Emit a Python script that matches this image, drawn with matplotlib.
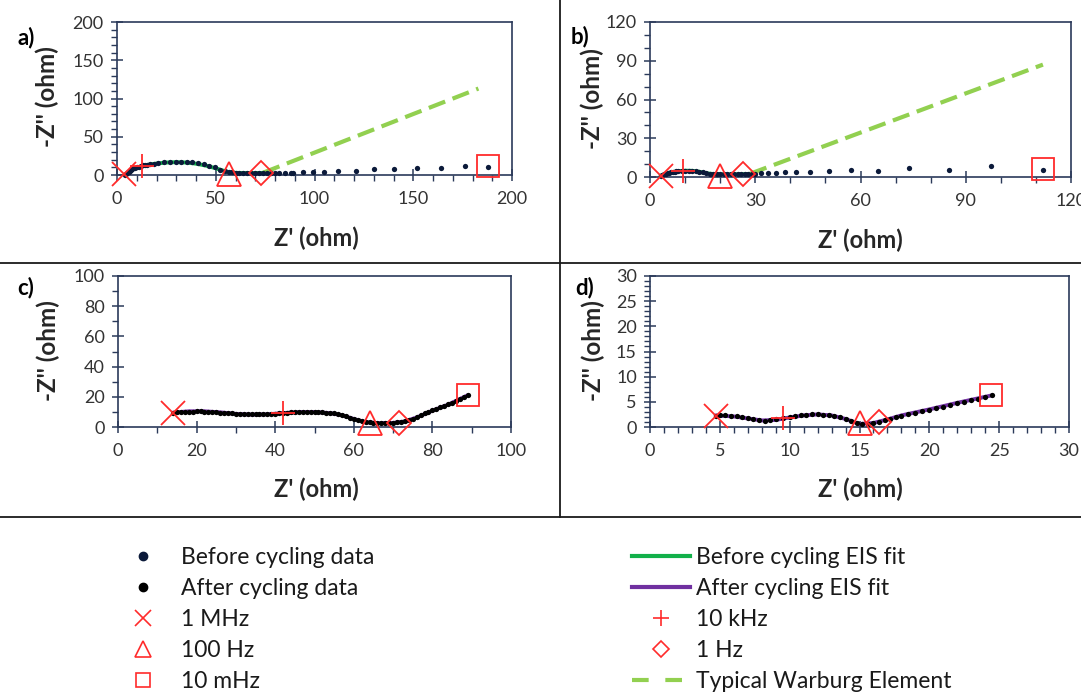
import matplotlib
matplotlib.use("Agg")
import matplotlib.pyplot as plt
from matplotlib.lines import Line2D
from matplotlib.ticker import MultipleLocator

W, H = 1081, 693
plt.rcParams['font.family'] = ['Lato', 'DejaVu Sans']

# ---------------- panel a (before cycling) ----------------
before_a_x = [4, 4.5, 5, 5.5, 6, 6.5, 7, 7.5, 8, 9, 10, 11, 12, 13, 14, 15, 16.5,
              18.5, 21, 24, 27, 30, 32.5, 35.5, 38, 41, 44, 46.5, 49.5, 52, 54.5,
              56.5, 58, 60, 62, 64, 66, 68, 70, 72, 74, 76, 78, 80, 82, 85, 88,
              89, 94, 99, 105, 112, 121, 130, 140, 152, 164, 176, 188]
before_a_y = [0.5, 1.5, 2.5, 3.5, 4.5, 5.5, 6.5, 7.5, 8.5, 9.5, 10.5, 11, 12, 12.5,
              13, 13.5, 14, 14.5, 15.5, 16.5, 17.5, 17.5, 17.5, 17.5, 16.7, 15.4,
              14, 12.3, 10, 7, 4.8, 3.8, 3.3, 3, 3, 3, 3, 3, 3, 3, 3, 3, 3, 3, 3,
              3, 3, 2.5, 4.2, 4.2, 4.2, 5.8, 5.8, 7.9, 7.9, 9.6, 9.6, 12, 11]
fit_a_x = [4, 6, 8, 10, 13, 16, 20, 25, 30, 35, 40, 45, 50, 54, 57, 60, 65, 70, 75]
fit_a_y = [0.5, 4, 7, 9.5, 12, 13.5, 15, 16.3, 16.8, 16.3, 14.8, 12.3, 8.8, 5.5,
           3.5, 2.8, 2.6, 2.6, 2.8]
warburg_a_x = [74, 183]
warburg_a_y = [3, 113]
freq_a_x = [3.7, 12.5, 56.6, 72.9, 188]
freq_a_y = [1.3, 12.3, 1.3, 2.2, 11.5]

# ---------------- panel b (before cycling) ----------------
before_b_x = [3, 3.5, 4, 4.5, 5, 5.5, 6, 6.5, 7, 7.5, 8, 9, 10, 11, 12, 13, 14, 15,
              16, 17, 18, 19, 20, 21, 22, 23, 24, 25, 26, 27, 28, 29, 30, 31.5,
              33.5, 35.8, 38.4, 41.6, 45.6, 51, 57.2, 64.9, 73.9, 85.1, 97.3, 112]
before_b_y = [1, 1.5, 2, 2.5, 3, 3.3, 3.6, 3.9, 4.2, 4.4, 4.6, 4.8, 5, 5, 4.9, 4.6,
              4.2, 3.6, 3, 2.6, 2.4, 2.3, 2.2, 2.2, 2.2, 2.2, 2.2, 2.2, 2.3, 2.3,
              2.4, 2.5, 2.6, 3, 3, 3, 3.8, 3.9, 3.8, 4.8, 5.7, 4.8, 6.8, 5.8, 8.6,
              5.8]
fit_b_x = [3, 4, 5, 6, 8, 10, 12, 14, 16, 18, 20, 24, 28, 30]
fit_b_y = [1, 2, 3, 3.6, 4.5, 4.9, 4.8, 4.1, 2.9, 2.3, 2.1, 2.1, 2.3, 2.5]
warburg_b_x = [28.5, 112]
warburg_b_y = [2.5, 87]
freq_b_x = [3, 9.5, 20, 26.5, 112]
freq_b_y = [1, 5, 1, 2.4, 6]

# ---------------- panel c (after cycling) ----------------
after_c_x = [14, 15, 16, 17, 18, 19, 20, 21, 22, 23, 24, 25, 26, 27, 28, 29, 30,
             31, 32, 33, 34, 35, 36, 37, 38, 39, 40, 41, 42, 43, 44, 45, 46, 47,
             48, 49, 50, 51, 52, 53, 54, 55, 56, 57, 58, 59, 60, 61, 62, 63, 64,
             65, 66, 67, 68, 69, 70, 71, 72, 73, 74, 75, 76, 77, 78, 79, 80, 81,
             82, 83, 84, 85, 86, 87, 88, 89]
after_c_y = [9.0, 9.8, 10.0, 10.1, 10.2, 10.2, 10.3, 10.3, 10.2, 10.1, 10.0, 9.8,
             9.6, 9.4, 9.2, 9.0, 8.8, 8.6, 8.5, 8.4, 8.4, 8.4, 8.4, 8.5, 8.6, 8.7,
             8.9, 9.1, 9.3, 9.5, 9.7, 9.8, 9.9, 10.0, 10.0, 10.0, 9.9, 9.8, 9.7,
             9.5, 9.3, 9.0, 8.4, 7.7, 7.0, 6.2, 5.5, 4.6, 3.8, 3.3, 3.0, 2.9, 2.8,
             2.8, 2.8, 2.8, 2.8, 3.0, 3.3, 3.8, 4.5, 5.4, 6.5, 7.7, 9.0, 10.0,
             11.0, 12.0, 13.0, 14.0, 15.0, 16.1, 17.3, 18.5, 19.8, 21.3]
fit_c_x = [14, 18, 22, 26, 30, 34, 38, 42, 46, 50, 54, 57, 60, 63, 66, 70, 73, 76,
           80, 84, 89]
fit_c_y = [9.5, 10.4, 10.4, 9.7, 8.7, 8.2, 8.4, 9.2, 9.9, 9.9, 9.2, 7.8, 5.3, 3.2,
           2.6, 2.7, 3.7, 6.3, 10.8, 14.8, 21.0]
freq_c_x = [14, 42, 64, 71.5, 89]
freq_c_y = [9, 9.3, 2.5, 2.7, 21.5]

# ---------------- panel d (after cycling) ----------------
after_d_x = [4.7, 5.0, 5.4, 5.8, 6.2, 6.6, 7.0, 7.4, 7.8, 8.2, 8.6, 9.0, 9.5, 10.0,
             10.4, 10.8, 11.2, 11.6, 12.0, 12.4, 12.8, 13.2, 13.6, 14.0, 14.4,
             14.8, 15.2, 15.6, 16.0, 16.4, 16.8, 17.2, 17.6, 18.0, 18.5, 19.0,
             19.5, 20.0, 20.5, 21.0, 21.5, 22.0, 22.5, 23.0, 23.5, 24.0, 24.5]
after_d_y = [2.2, 2.4, 2.3, 2.2, 2.1, 1.9, 1.7, 1.5, 1.3, 1.2, 1.3, 1.5, 1.8, 2.0,
             2.2, 2.3, 2.4, 2.5, 2.5, 2.4, 2.3, 2.2, 2.0, 1.6, 1.1, 0.7, 0.5, 0.6,
             0.8, 1.0, 1.3, 1.6, 1.9, 2.2, 2.5, 2.8, 3.1, 3.4, 3.7, 4.0, 4.3, 4.7,
             5.0, 5.3, 5.6, 5.9, 6.4]
fit_d_x = [4.7, 6, 7, 8, 9, 10, 11, 12, 13, 14, 15, 16, 17, 18, 20, 22, 24.5]
fit_d_y = [2.3, 2.1, 1.7, 1.3, 1.4, 1.9, 2.3, 2.5, 2.3, 1.6, 0.6, 0.8, 1.5, 2.3,
           3.5, 4.8, 6.3]
freq_d_x = [4.7, 9.5, 15, 16.4, 24.4]
freq_d_y = [2.1, 1.8, 0.8, 1.0, 6.4]

# axis settings per panel: limit, major step, minor step
limits = {'a': 200, 'b': 120, 'c': 100, 'd': 30}
major_steps = {'a': 50, 'b': 30, 'c': 20, 'd': 5}
minor_steps = {'a': 10, 'b': 10, 'c': 10, 'd': 1}

freq_labels = ['1 MHz', '10 kHz', '100 Hz', '1 Hz', '10 mHz']
freq_markers = ['x', '+', '^', 'D', 's']
freq_sizes = [17, 17, 17, 12, 16]

NAVY = '#2B3A5A'
DOT_BEFORE = '#0B1A3A'
DOT_AFTER = '#000000'
RED = '#FF2B2B'
GREEN_FIT = '#12B04A'
PURPLE_FIT = '#7030A0'
WARBURG = '#92D050'
TICK_TXT = '#333333'

fig = plt.figure(figsize=(W / 100, H / 100), dpi=100)


def fx(px):
    return px / W


def fy(py):
    return 1 - py / H


def add_panel(l, t, r, b):
    return fig.add_axes([fx(l), fy(b), (r - l) / W, (b - t) / H])


boxes = {'a': (117, 22, 512, 175), 'b': (650, 22, 1071, 177),
         'c': (118, 276, 511, 427), 'd': (650, 276, 1069, 427)}

axes = {k: add_panel(*v) for k, v in boxes.items()}

panel_data = {
    'a': (before_a_x, before_a_y, DOT_BEFORE, fit_a_x, fit_a_y, GREEN_FIT,
          freq_a_x, freq_a_y),
    'b': (before_b_x, before_b_y, DOT_BEFORE, fit_b_x, fit_b_y, GREEN_FIT,
          freq_b_x, freq_b_y),
    'c': (after_c_x, after_c_y, DOT_AFTER, fit_c_x, fit_c_y, PURPLE_FIT,
          freq_c_x, freq_c_y),
    'd': (after_d_x, after_d_y, DOT_AFTER, fit_d_x, fit_d_y, PURPLE_FIT,
          freq_d_x, freq_d_y),
}
warburg = {'a': (warburg_a_x, warburg_a_y), 'b': (warburg_b_x, warburg_b_y)}

for key, ax in axes.items():
    dx, dy, dcol, fxs, fys, fcol, qx, qy = panel_data[key]
    lim = limits[key]
    ax.plot(fxs, fys, color=fcol, lw=2.8, solid_capstyle='round', zorder=2)
    ax.plot(dx, dy, 'o', color=dcol, ms=3.8, mew=0, zorder=3, clip_on=False)
    if key in warburg:
        wx, wy = warburg[key]
        ax.plot(wx, wy, color=WARBURG, lw=3.0, dashes=(4.2, 1.9), zorder=2)
    for xv, yv, mk, ms in zip(qx, qy, freq_markers, freq_sizes):
        ax.plot([xv], [yv], linestyle='none', marker=mk, ms=ms, mfc='none',
                mec=RED, mew=1.3, zorder=4, clip_on=False)
    ax.set_xlim(0, lim)
    ax.set_ylim(0, lim)
    ax.xaxis.set_major_locator(MultipleLocator(major_steps[key]))
    ax.yaxis.set_major_locator(MultipleLocator(major_steps[key]))
    ax.xaxis.set_minor_locator(MultipleLocator(minor_steps[key]))
    ax.yaxis.set_minor_locator(MultipleLocator(minor_steps[key]))
    ax.tick_params(which='major', direction='inout', length=9, width=1.1,
                   color=NAVY, labelsize=13, labelcolor=TICK_TXT)
    ax.tick_params(axis='x', which='major', pad=7)
    ax.tick_params(axis='y', which='major', pad=5)
    ax.tick_params(which='minor', direction='out', length=4.5, width=1.0,
                   color=NAVY)
    for sp in ax.spines.values():
        sp.set_color(NAVY)
        sp.set_linewidth(1.2)
    ax.set_facecolor('none')

# axis titles and panel letters
xlab_pos = {'a': (316, 238), 'b': (860, 240), 'c': (316, 489), 'd': (860, 489)}
ylab_pos = {'a': (47, 97), 'b': (592, 99), 'c': (48, 351), 'd': (593, 351)}
letter_pos = {'a': (17, 38), 'b': (571, 37), 'c': (17, 288), 'd': (575, 288)}
for key in axes:
    x, y = xlab_pos[key]
    fig.text(fx(x), fy(y), "Z' (ohm)", ha='center', va='center',
             fontsize=17, fontweight='bold', color='#262626')
    x, y = ylab_pos[key]
    fig.text(fx(x), fy(y), "-Z'' (ohm)", ha='center', va='center',
             rotation=90, fontsize=17.5, fontweight='bold', color='#262626')
    x, y = letter_pos[key]
    fig.text(fx(x), fy(y), key + ')', ha='left', va='center',
             fontsize=16, fontweight='bold', color='#000000')

# panel separators
fig.add_artist(Line2D([0, 1], [fy(263), fy(263)], color='#1A1A1A', lw=1.3))
fig.add_artist(Line2D([0, 1], [fy(517), fy(517)], color='#1A1A1A', lw=1.3))
fig.add_artist(Line2D([fx(560), fx(560)], [fy(0), fy(517)], color='#1A1A1A',
                      lw=1.3))

# legend
left_handles = [
    Line2D([], [], ls='none', marker='o', ms=6, mfc=DOT_BEFORE, mec=DOT_BEFORE),
    Line2D([], [], ls='none', marker='o', ms=6, mfc=DOT_AFTER, mec=DOT_AFTER),
    Line2D([], [], ls='none', marker='x', ms=11, mfc='none', mec=RED, mew=1.2),
    Line2D([], [], ls='none', marker='^', ms=11, mfc='none', mec=RED, mew=1.2),
    Line2D([], [], ls='none', marker='s', ms=10, mfc='none', mec=RED, mew=1.2),
]
left_labels = ['Before cycling data', 'After cycling data', freq_labels[0],
               freq_labels[2], freq_labels[4]]
right_handles = [
    Line2D([], [], color=GREEN_FIT, lw=3),
    Line2D([], [], color=PURPLE_FIT, lw=3),
    Line2D([], [], ls='none', marker='+', ms=12, mec=RED, mew=1.2),
    Line2D([], [], ls='none', marker='D', ms=8, mfc='none', mec=RED, mew=1.2),
    Line2D([], [], color=WARBURG, lw=3, dashes=(4, 4)),
]
right_labels = ['Before cycling EIS fit', 'After cycling EIS fit',
                freq_labels[1], freq_labels[3], 'Typical Warburg Element']

common = dict(loc='upper left', frameon=False, fontsize=16.5, borderpad=0,
              borderaxespad=0, labelspacing=0.44, labelcolor='#1A1A1A')
fig.legend(left_handles, left_labels, bbox_to_anchor=(fx(123), fy(547)),
           handlelength=1.75, handletextpad=0.79, **common)
fig.legend(right_handles, right_labels, bbox_to_anchor=(fx(632), fy(547)),
           handlelength=2.53, handletextpad=0.26, **common)

fig.savefig('out.png', dpi=100)
